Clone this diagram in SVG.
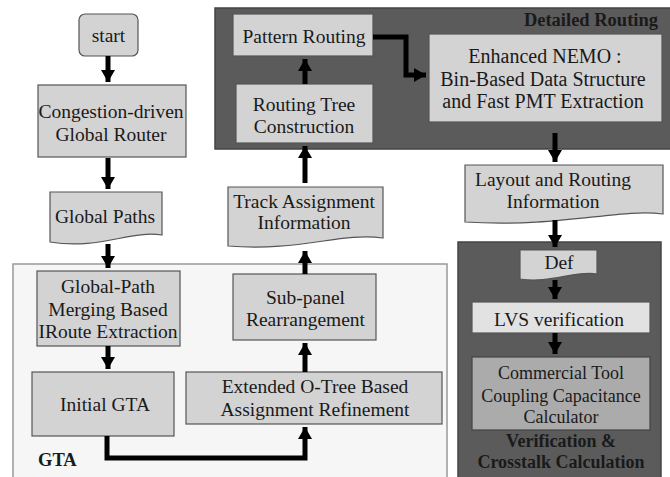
<svg xmlns="http://www.w3.org/2000/svg" width="670" height="477" viewBox="0 0 670 477">
<defs>
<style>
text{font-size:19.5px;fill:#1a1a1a;text-anchor:middle}
.n{fill:#d3d3d3;stroke:#555;stroke-width:1.2}
.lt{fill:#e2e2e2;stroke:#555;stroke-width:1.2}
.md{fill:#ababab;stroke:#444;stroke-width:1.2}
.dark{fill:#5b5b5b;stroke:#444;stroke-width:1.5}
.gta{fill:#f6f6f6;stroke:#999;stroke-width:1.5}
.b{font-weight:bold;font-size:18.5px}
.s{font-size:18px}
.l{font-size:20px}
.c{fill:none;stroke:#000;stroke-width:5}
</style>
<marker id="ah" markerUnits="userSpaceOnUse" markerWidth="16" markerHeight="14" refX="12" refY="7" orient="auto">
<path d="M0,0 L12,7 L0,14 Z" fill="#000"/>
</marker>
</defs>
<g font-family="'Liberation Serif', 'DejaVu Serif', serif">
<g id="gta-container"><rect class="gta" x="13" y="264" width="434" height="216"/><text class="b" x="38" y="466" style="text-anchor:start">GTA</text></g>
<g id="detailed-container"><rect class="dark" x="215" y="8" width="460" height="141"/><text class="b" x="658" y="26" style="text-anchor:end">Detailed Routing</text></g>
<g id="verif-container"><rect class="dark" x="458" y="242" width="203" height="240"/><text class="b" x="561" y="447" style="font-size:18px">Verification &amp;</text><text class="b" x="561" y="468" style="font-size:18px">Crosstalk Calculation</text></g>

<g id="start"><rect class="n" x="79" y="14" width="59" height="42" rx="6"/><text x="108.5" y="42">start</text></g>
<g id="congestion"><rect class="n" x="38" y="85" width="148" height="72"/><text x="111" y="118">Congestion-driven</text><text x="111" y="141">Global Router</text></g>
<g id="global-paths"><path class="n" d="M50,192 H162 V235 C130,230 100,250 50,242 Z"/><text x="105" y="223">Global Paths</text></g>
<g id="global-path-merging"><rect class="n" x="37" y="271" width="143" height="75"/><text x="108" y="293">Global-Path</text><text x="108" y="316">Merging Based</text><text x="108" y="338">IRoute Extraction</text></g>
<g id="initial-gta"><rect class="n" x="32" y="372" width="142" height="64"/><text x="105" y="411">Initial GTA</text></g>
<g id="extended"><rect class="n" x="186" y="372" width="256" height="52"/><text x="315" y="393">Extended O-Tree Based</text><text x="315" y="416">Assignment Refinement</text></g>
<g id="subpanel"><rect class="n" x="233" y="274" width="143" height="66"/><text x="305.5" y="304">Sub-panel</text><text x="305.5" y="326">Rearrangement</text></g>
<g id="track"><path class="n" d="M228,187 H383 V238 C340,232 300,252 228,246 Z"/><text x="304" y="208">Track Assignment</text><text x="304" y="229">Information</text></g>
<g id="routing-tree"><rect class="n" x="236" y="84" width="137" height="59"/><text x="304" y="111">Routing Tree</text><text x="304" y="133">Construction</text></g>
<g id="pattern"><rect class="n" x="233" y="14" width="140" height="42"/><text x="304" y="43">Pattern Routing</text></g>
<g id="nemo"><rect class="n" x="429" y="34" width="233" height="88"/><text class="l" x="545" y="63">Enhanced NEMO :</text><text class="l" x="543" y="86">Bin-Based Data Structure</text><text class="l" x="543" y="108">and Fast PMT Extraction</text></g>
<g id="layout"><path class="n" d="M465,165 H663 V214 C620,208 560,228 465,222 Z"/><text x="553" y="186">Layout and Routing</text><text x="553" y="208">Information</text></g>
<g id="def"><path class="n" d="M520,250 H597 V274 C575,270 550,284 520,279 Z"/><text x="559" y="269">Def</text></g>
<g id="lvs"><rect class="lt" x="472" y="302" width="178" height="31"/><text x="559" y="326">LVS verification</text></g>
<g id="commercial"><rect class="md" x="472" y="357" width="178" height="73"/><text class="s" x="561" y="379">Commercial Tool</text><text class="s" x="561" y="402">Coupling Capacitance</text><text class="s" x="561" y="423">Calculator</text></g>
</g>
<g id="connectors">
<path class="c" d="M108,56 V82" marker-end="url(#ah)"/>
<path class="c" d="M108,158 V189" marker-end="url(#ah)"/>
<path class="c" d="M108,244 V268" marker-end="url(#ah)"/>
<path class="c" d="M108,346 V369" marker-end="url(#ah)"/>
<path class="c" d="M107,436 V458 H305 V427" marker-end="url(#ah)"/>
<path class="c" d="M305,372 V343" marker-end="url(#ah)"/>
<path class="c" d="M305,274 V251" marker-end="url(#ah)"/>
<path class="c" d="M305,183 V146" marker-end="url(#ah)"/>
<path class="c" d="M305,84 V59" marker-end="url(#ah)"/>
<path class="c" d="M373,37 H406 V75 H426" marker-end="url(#ah)"/>
<path class="c" d="M555,133 V162" marker-end="url(#ah)"/>
<path class="c" d="M555,220 V247" marker-end="url(#ah)"/>
<path class="c" d="M555,280 V299" marker-end="url(#ah)"/>
<path class="c" d="M555,333 V354" marker-end="url(#ah)"/>
</g>
</svg>
